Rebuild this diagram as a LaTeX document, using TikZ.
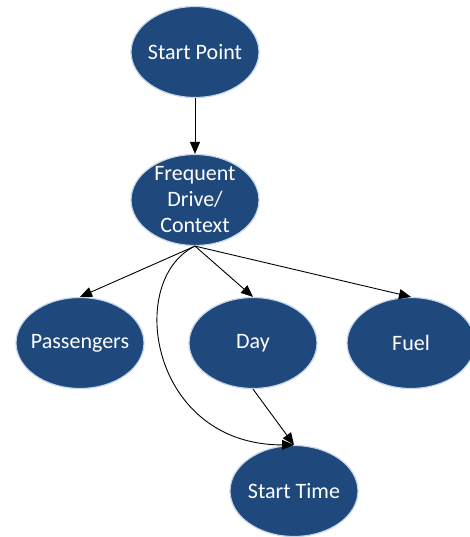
\documentclass[tikz,border=0pt]{standalone}
\usepackage{fontspec}
\setmainfont{Carlito}
\usetikzlibrary{shapes.geometric,arrows.meta}
\definecolor{nodeblue}{RGB}{31,73,125}
\definecolor{glowblue}{RGB}{196,214,234}
\tikzset{
  topic/.style={ellipse, fill=nodeblue, draw=glowblue, line width=1.2pt,
    minimum width=128pt, minimum height=91pt, inner xsep=-12pt, inner ysep=-10pt,
    text=white, font=\fontsize{22}{26}\selectfont, align=center},
  link/.style={-{Triangle[length=12pt,width=10pt]}, line width=0.9pt}
}
\begin{document}
\begin{tikzpicture}[x=1pt, y=-1pt]
  \useasboundingbox (0,0) rectangle (469,537);
  \node[topic] (start) at (195,52) {Start Point};
  \node[topic] (ctx) at (195,200) {Frequent\\Drive/\\Context};
  \node[topic] (pass) at (80,343) {Passengers};
  \node[topic] (day) at (253,343) {Day};
  \node[topic] (fuel) at (411,343) {Fuel};
  \node[topic] (stime) at (294,491) {Start Time};
  \draw[link] (start) -- (ctx);
  \draw[link] (ctx.south) -- (pass.north);
  \draw[link] (ctx.south) -- (day.north);
  \draw[link] (ctx.south) -- (fuel.north);
  \draw[link] (day.south) -- (stime.north);
  \draw[link] (ctx.south) .. controls (125,280) and (150,445) .. (stime.north);
\end{tikzpicture}
\end{document}
